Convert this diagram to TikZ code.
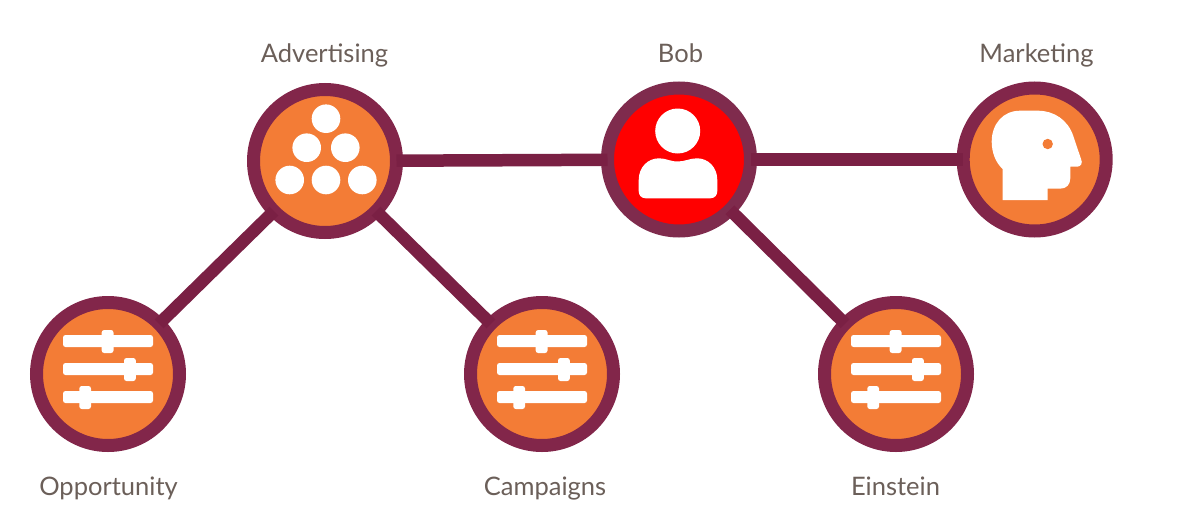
\documentclass[tikz,border=0pt]{standalone}
\usepackage{fontspec}
\setmainfont{Lato}
\definecolor{ringc}{HTML}{82264A}
\definecolor{bobring}{HTML}{7F2B4D}
\definecolor{linkc}{HTML}{7A2044}
\definecolor{orangec}{HTML}{F37C36}
\definecolor{labelc}{HTML}{6B5F59}
\tikzset{
  hub/.style={circle,draw=ringc,line width=13pt,fill=orangec,minimum size=143pt,inner sep=0pt,outer sep=0pt},
  link/.style={draw=linkc,line width=12.5pt},
  lbl/.style={text=labelc,font=\fontsize{25.5pt}{28pt}\selectfont,anchor=base,inner sep=0pt},
  bar/.style={fill=white,rounded corners=2.5pt},
  sliders/.pic={
    \fill[bar] (-45,-39) rectangle (45,-27);
    \fill[bar] (-6.3,-44) rectangle (5.5,-21);
    \fill[bar] (-45,-11) rectangle (45,1);
    \fill[bar] (16,-16) rectangle (27.8,7);
    \fill[bar] (-45,17) rectangle (45,29);
    \fill[bar] (-28.7,12) rectangle (-17,35);
  }
}
\begin{document}
\begin{tikzpicture}[x=1pt,y=-1pt]
\useasboundingbox (0,0) rectangle (1184,530);
\node[hub] (adv) at (325,161) {};
\node[hub,draw=bobring,fill=red] (bob) at (679,159.5) {};
\node[hub] (mkt) at (1034.7,159.5) {};
\node[hub] (opp) at (108,374) {};
\node[hub] (cam) at (542,374) {};
\node[hub] (ein) at (896,374) {};
\draw[link] (adv) -- (bob);
\draw[link] (bob) -- (mkt);
\draw[link] (adv) -- (opp);
\draw[link] (adv) -- (cam);
\draw[link] (bob) -- (ein);
% pyramid icon
\fill[white] (326,118.7) circle (14.3) (306.7,147.7) circle (14.3) (345.3,147.7) circle (14.3)
  (289.7,180) circle (14.3) (326,180) circle (14.3) (362.3,180) circle (14.3);
% person icon
\fill[white] (677.7,131) circle (22.5);
\fill[white] (645.7,198.3) .. controls (641,198.3) and (638.7,195) .. (638.7,191)
  -- (638.7,180) .. controls (638.7,167) and (648,158.3) .. (659,158.3)
  .. controls (666,158.3) and (670,161.5) .. (677.7,161.5)
  .. controls (685,161.5) and (690,158.3) .. (697,158.3)
  .. controls (708,158.3) and (717.3,167) .. (717.3,180)
  -- (717.3,191) .. controls (717.3,195) and (715,198.3) .. (710.3,198.3) -- cycle;
% head icon
\fill[white] (1002.7,200) -- (1047.7,200) -- (1047.7,188.7) -- (1060,188.7)
  .. controls (1066.5,188.7) and (1070.3,184.5) .. (1070.3,178.3) -- (1070.3,166.7) -- (1077,166.7)
  .. controls (1081,166.7) and (1083,163) .. (1081,159)
  -- (1073.3,136) .. controls (1068,120) and (1054,110.7) .. (1038,110.7)
  -- (1020,110.7) .. controls (1003,110.7) and (991.7,124) .. (991.7,141.7)
  .. controls (991.7,153) and (996,163) .. (1002.7,169) -- cycle;
\fill[orangec] (1047.7,144) circle (5.2);
% sliders
\pic at (108,374) {sliders};
\pic at (542,374) {sliders};
\pic at (896,374) {sliders};
% labels
\node[lbl] (l1) at (324.5,62.5) {Advertising};
\node[lbl] (l2) at (680.5,62.5) {Bob};
\node[lbl] (l3) at (1036.5,62) {Marketing};
\node[lbl] (l4) at (108.5,495) {Opportunity};
\node[lbl] (l5) at (545,495) {Campaigns};
\node[lbl] (l6) at (895.5,495) {Einstein};
\end{tikzpicture}
\end{document}
